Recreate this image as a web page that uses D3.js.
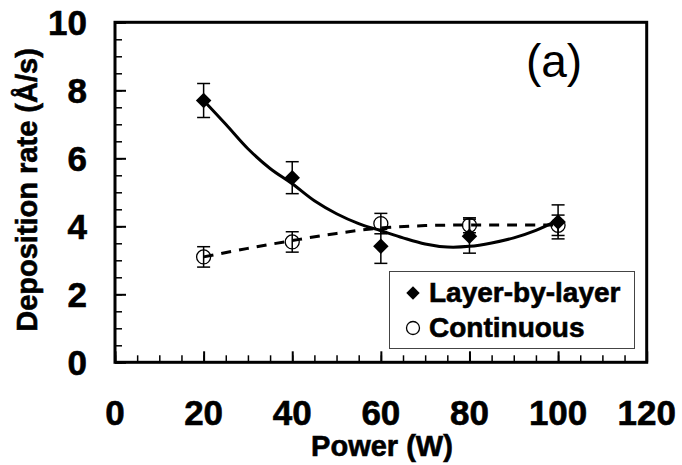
<!DOCTYPE html>
<html>
<head>
<meta charset="utf-8">
<script src="https://cdn.jsdelivr.net/npm/d3@7"></script>
<style>
    body { margin: 0; background: white; }
    text { font-family: "Liberation Sans", Arial, sans-serif; }
    .heavy { font-weight: bold; stroke: black; stroke-width: 0.6px; }
</style>
</head>
<body>
<div id="chart"></div>
<script>
const width = 682, height = 465;

// data
const power = [20, 40, 60, 80, 100];
const layerRate = [7.7, 5.43, 3.41, 3.71, 4.13];
const layerErr = [0.5, 0.47, 0.5, 0.5, 0.5];
const contRate = [3.1, 3.54, 4.08, 4.03, 4.03];
const contErr = [0.3, 0.3, 0.3, 0.22, 0.3];

// trend lines
const layerTrendPower = [20, 25, 30, 35, 40, 45, 50, 55, 60, 65, 70, 75, 80, 85, 90, 95, 100];
const layerTrend = [7.7, 7.0, 6.28, 5.7, 5.25, 4.75, 4.37, 4.08, 3.87, 3.66, 3.48, 3.39, 3.41, 3.51, 3.66, 3.88, 4.18];
const contTrendPower = [20, 30, 40, 50, 60, 70, 80, 90, 100];
const contTrend = [3.1, 3.35, 3.58, 3.79, 3.95, 4.02, 4.04, 4.04, 4.04];

const xTicks = [0, 20, 40, 60, 80, 100, 120];
const yTicks = [0, 2, 4, 6, 8, 10];
const seriesNames = ["Layer-by-layer", "Continuous"];

const svg = d3.select("#chart")
    .append("svg")
    .attr("width", width)
    .attr("height", height);

const x = d3.scaleLinear().domain([0, 120]).range([115, 646.7]);
const y = d3.scaleLinear().domain([0, 10]).range([362.3, 22.3]);

//minor + major ticks, pointing inward
const xMinor = d3.range(0, 121, 5);
const yMinor = d3.range(0, 10.01, 0.5);

svg.append("g")
    .attr("transform", `translate(0,${y(0)})`)
    .call(d3.axisBottom(x).tickValues(xMinor).tickSize(-7).tickFormat(""))
    .call(g => g.select(".domain").remove())
    .selectAll("line").attr("stroke-width", 1.5);

svg.append("g")
    .attr("transform", `translate(0,${y(0)})`)
    .call(d3.axisBottom(x).tickValues(xTicks).tickSize(-11).tickFormat(""))
    .call(g => g.select(".domain").remove())
    .selectAll("line").attr("stroke-width", 2);

svg.append("g")
    .attr("transform", `translate(${x(0)},0)`)
    .call(d3.axisLeft(y).tickValues(yMinor).tickSize(-7).tickFormat(""))
    .call(g => g.select(".domain").remove())
    .selectAll("line").attr("stroke-width", 1.5);

svg.append("g")
    .attr("transform", `translate(${x(0)},0)`)
    .call(d3.axisLeft(y).tickValues(yTicks).tickSize(-11).tickFormat(""))
    .call(g => g.select(".domain").remove())
    .selectAll("line").attr("stroke-width", 2);

//tick labels
svg.selectAll(".xlab")
    .data(xTicks)
    .enter()
    .append("text")
    .attr("class", "heavy")
    .attr("x", d => x(d))
    .attr("y", 425)
    .attr("text-anchor", "middle")
    .attr("font-size", 35)
    .text(d => d);

svg.selectAll(".ylab")
    .data(yTicks)
    .enter()
    .append("text")
    .attr("class", "heavy")
    .attr("x", 87)
    .attr("y", d => y(d) + 12.5)
    .attr("text-anchor", "end")
    .attr("font-size", 35)
    .text(d => d);

//axis titles
svg.append("text")
    .attr("class", "heavy")
    .attr("x", 382)
    .attr("y", 456)
    .attr("text-anchor", "middle")
    .attr("font-size", 29)
    .text("Power (W)");

svg.append("text")
    .attr("class", "heavy")
    .attr("transform", "translate(37,190) rotate(-90)")
    .attr("text-anchor", "middle")
    .attr("font-size", 29)
    .text("Deposition rate (Å/s)");

// panel label
svg.append("text")
    .attr("x", 554)
    .attr("y", 77)
    .attr("text-anchor", "middle")
    .attr("font-size", 46)
    .text("(a)");

//error bars
function errorBars(vals, errs) {
    const g = svg.append("g").attr("stroke", "black").attr("stroke-width", 1.5);
    power.forEach((p, i) => {
        const cx = x(p), top = y(vals[i] + errs[i]), bot = y(vals[i] - errs[i]);
        g.append("line").attr("x1", cx).attr("x2", cx).attr("y1", top).attr("y2", bot);
        g.append("line").attr("x1", cx - 6.5).attr("x2", cx + 6.5).attr("y1", top).attr("y2", top);
        g.append("line").attr("x1", cx - 6.5).attr("x2", cx + 6.5).attr("y1", bot).attr("y2", bot);
    });
}
errorBars(layerRate, layerErr);
errorBars(contRate, contErr);

//trend lines
const line = d3.line()
    .x(d => x(d[0]))
    .y(d => y(d[1]))
    .curve(d3.curveCatmullRom);

svg.append("path")
    .attr("d", line(d3.zip(layerTrendPower, layerTrend)))
    .attr("fill", "none")
    .attr("stroke", "black")
    .attr("stroke-width", 3);

svg.append("path")
    .attr("d", line(d3.zip(contTrendPower, contTrend)))
    .attr("fill", "none")
    .attr("stroke", "black")
    .attr("stroke-width", 3)
    .attr("stroke-dasharray", "10,8");

//markers
const diamond = d3.symbol().type(d3.symbolSquare).size(120);

svg.selectAll(".diamond")
    .data(power)
    .enter()
    .append("path")
    .attr("d", diamond())
    .attr("transform", (d, i) => `translate(${x(d)},${y(layerRate[i])}) rotate(45)`)
    .attr("fill", "black");

svg.selectAll(".circ")
    .data(power)
    .enter()
    .append("circle")
    .attr("cx", d => x(d))
    .attr("cy", (d, i) => y(contRate[i]))
    .attr("r", 7)
    .attr("fill", "none")
    .attr("stroke", "black")
    .attr("stroke-width", 1.3);

//frame
svg.append("rect")
    .attr("x", x(0))
    .attr("y", y(10))
    .attr("width", x(120) - x(0))
    .attr("height", y(0) - y(10))
    .attr("fill", "none")
    .attr("stroke", "black")
    .attr("stroke-width", 3);

//legend
const legend = svg.append("g");
legend.append("rect")
    .attr("x", 389.5)
    .attr("y", 271.5)
    .attr("width", 245)
    .attr("height", 77)
    .attr("fill", "white")
    .attr("stroke", "#444")
    .attr("stroke-width", 1);

legend.append("path")
    .attr("d", d3.symbol().type(d3.symbolSquare).size(90)())
    .attr("transform", "translate(413,293) rotate(45)")
    .attr("fill", "black");

legend.append("circle")
    .attr("cx", 413)
    .attr("cy", 328)
    .attr("r", 6.5)
    .attr("fill", "none")
    .attr("stroke", "black")
    .attr("stroke-width", 1.3);

legend.selectAll("text")
    .data(seriesNames)
    .enter()
    .append("text")
    .attr("class", "heavy")
    .attr("x", 429)
    .attr("y", (d, i) => 302 + i * 35)
    .attr("font-size", 28)
    .text(d => d);
</script>
</body>
</html>
